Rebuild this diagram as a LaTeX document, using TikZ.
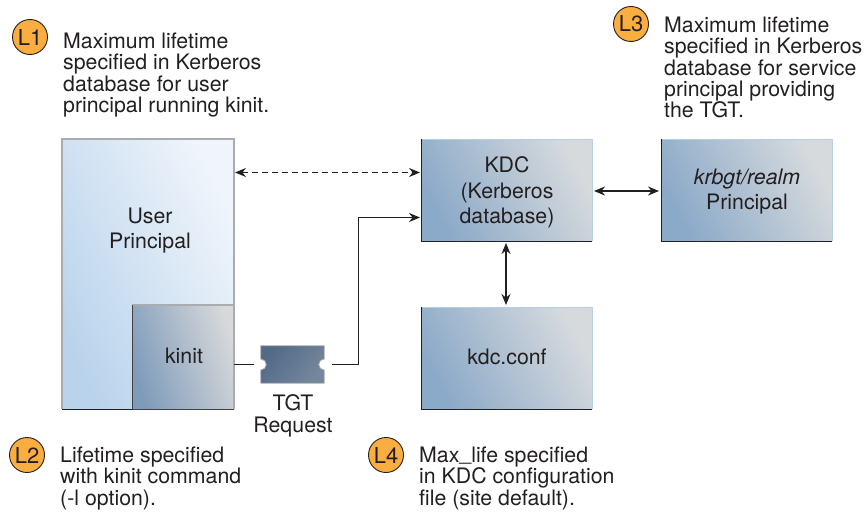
\documentclass[tikz,border=0pt]{standalone}
\usepackage{fontspec}
\setmainfont{TeX Gyre Heros}
\usetikzlibrary{arrows.meta,calc}
\definecolor{ink}{HTML}{231F20}
\definecolor{bluedark}{HTML}{8BA9C8}
\definecolor{graylight}{HTML}{D6DADD}
\definecolor{kinitdark}{HTML}{7F9BBA}
\definecolor{kinitlight}{HTML}{D6D8DA}
\definecolor{userdark}{HTML}{B9D3EC}
\definecolor{userlight}{HTML}{F0F5FB}
\definecolor{badge}{HTML}{FBAE40}
\definecolor{edgegray}{HTML}{A9ADB0}
\definecolor{edgeblue}{HTML}{B5CFE6}
\definecolor{ticketdark}{HTML}{526A88}
\definecolor{ticketlight}{HTML}{75879C}
\tikzset{
  x=1pt,y=1pt,
  txt/.style={font=\fontsize{21.3}{21.4}\selectfont,text=ink,inner sep=0pt,align=left,anchor=north west},
  boxlabel/.style={font=\fontsize{21.3}{25.2}\selectfont,text=ink,inner sep=0pt,align=center},
  badgenode/.style={circle,draw=ink,line width=0.9pt,fill=badge,minimum size=35pt,inner sep=0pt,text=ink,font=\fontsize{22}{22}\selectfont},
  bluebox/.style={rectangle,inner sep=0pt,outer sep=0pt,left color=bluedark,right color=graylight,shading angle=118},
  conn/.style={draw=ink,line width=1.2pt},
  tip/.style={{Stealth[length=11pt,width=9pt]}-{Stealth[length=11pt,width=9pt]}},
  onetip/.style={-{Stealth[length=11pt,width=9pt]}}
}
\newcommand{\boxedges}[2]{%
  \draw[#2,line width=1pt] (#1.north west) -- (#1.north east) -- (#1.south east);
  \draw[ink,line width=1pt] (#1.north west) -- (#1.south west) -- (#1.south east);
}
\begin{document}
\begin{tikzpicture}
\useasboundingbox (0,0) rectangle (864,-511);
% boxes
\node[bluebox,left color=userdark,right color=userlight,shading angle=115,minimum width=172pt,minimum height=270pt] (user) at (148,-274) {};
\draw[edgegray,line width=1.4pt] (user.south west) -- (user.north west) -- (user.north east) -- (user.south east);
\draw[ink,line width=1pt] (user.south west) -- (user.south east);
\node[boxlabel] (userlabel) at (150,-230.5) {User\\Principal};
\node[bluebox,left color=kinitdark,right color=kinitlight,shading angle=108,minimum width=102pt,minimum height=104pt] (kinit) at (183,-357) {};
\draw[edgegray,line width=1.4pt] (kinit.north west) -- (kinit.north east) -- (kinit.south east);
\draw[ink!85,line width=1pt] (kinit.north west) -- (kinit.south west) -- (kinit.south east);
\node[boxlabel] (kinitlabel) at (184,-356) {kinit};
\node[bluebox,minimum width=171pt,minimum height=102pt] (kdc) at (506.5,-190) {};
\boxedges{kdc}{edgeblue}
\node[boxlabel] (kdclabel) at (507,-192.5) {KDC\\(Kerberos\\database)};
\node[bluebox,minimum width=171pt,minimum height=102pt] (krb) at (746.5,-190) {};
\boxedges{krb}{edgeblue}
\node[boxlabel] (krblabel) at (747,-191.5) {\itshape krbgt/realm\\Principal};
\node[bluebox,minimum width=171pt,minimum height=102pt] (conf) at (506.5,-358) {};
\boxedges{conf}{edgeblue}
\node[boxlabel] (conflabel) at (507,-357) {kdc.conf};
% ticket
\node[inner sep=0pt,minimum width=63pt,minimum height=37pt] (ticket) at (292.5,-364.5) {};
\shade[left color=ticketdark,right color=ticketlight,shading angle=50,draw=edgegray,line width=0.8pt]
  (ticket.north west) -- (ticket.north east) -- (ticket.east |- 0,-359)
  arc[start angle=90,end angle=270,radius=5.5pt] -- (ticket.south east) -- (ticket.south west)
  -- (ticket.west |- 0,-370) arc[start angle=-90,end angle=90,radius=5.5pt] -- cycle;
\node[boxlabel,font=\fontsize{21.3}{21.6}\selectfont] (ticketlabel) at (293,-416) {TGT\\Request};
% connectors
\coordinate (dashy) at (0,-172.5);
\coordinate (bend) at (358.5,-217.5);
\coordinate (midy) at (0,-191);
\coordinate (midx) at (506,0);
\draw[conn,tip,dash pattern=on 6pt off 4pt] ($(user.east |- dashy)+(1,0)$) -- ($(kdc.west |- dashy)+(-1,0)$);
\draw[conn,shorten >=7pt] (kinit.east |- ticket.west) -- (ticket.west);
\draw[conn,onetip,shorten <=8pt] (ticket.east) -| (bend) -- ($(kdc.west |- bend)+(-1,0)$);
\draw[conn,tip,line width=1.5pt,shorten <=2pt,shorten >=2pt] (kdc.east |- midy) -- (krb.west |- midy);
\draw[conn,tip,line width=1.5pt,shorten <=2pt,shorten >=2pt] (kdc.south -| midx) -- (conf.north -| midx);
% badges and notes
\node[badgenode] (l1) at (30,-37) {L1};
\node[txt] (n1) at (63,-32.5) {Maximum lifetime\\specified in Kerberos\\database for user\\principal running kinit.};
\node[badgenode] (l3) at (631,-24) {L3};
\node[txt] (n3) at (664,-16.5) {Maximum lifetime\\specified in Kerberos\\database for service\\principal providing\\the TGT.};
\node[badgenode] (l2) at (27,-455) {L2};
\node[txt] (n2) at (60,-446.5) {Lifetime specified\\with kinit command\\(-l option).};
\node[badgenode] (l4) at (386,-455) {L4};
\node[txt] (n4) at (419,-446.5) {Max\raisebox{1.5pt}{\_}life specified\\in KDC configuration\\file (site default).};
\end{tikzpicture}
\end{document}
